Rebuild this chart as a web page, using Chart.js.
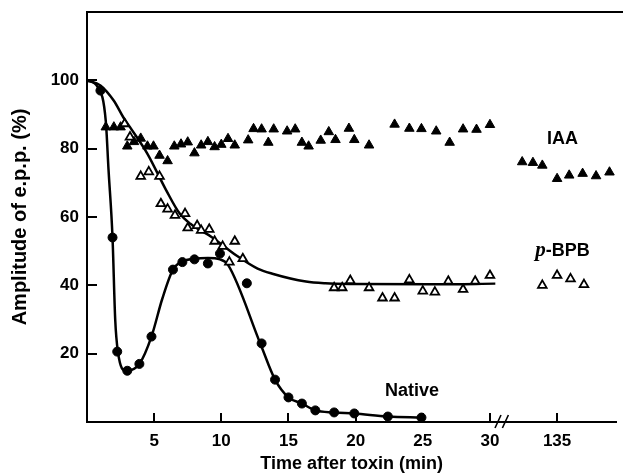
<!DOCTYPE html>
<html><head><meta charset="utf-8">
<script src="https://cdn.jsdelivr.net/npm/chart.js@4/dist/chart.umd.min.js"></script>
<style>html,body{margin:0;padding:0;background:#fff}canvas{display:block}</style>
</head><body>
<canvas id="c" width="623" height="475"></canvas>
<script>
// ---- data (time in min, amplitude in %) ----
const BREAK_SHIFT = 100;            // axis break: 135 min is drawn where 35 would be
const xTickValues = [5, 10, 15, 20, 25, 30, 135];
const yTickValues = [20, 40, 60, 80, 100];

// Native toxin: measured points (filled circles)
const nativeX = [1.0, 1.9, 2.25, 3.0, 3.9, 4.8, 6.4, 7.1, 8.0, 9.0, 9.9, 11.9, 13.0, 14.0, 15.0, 16.0, 17.0, 18.4, 19.9, 22.4, 24.9];
const nativeY = [97, 54, 20.6, 15, 17, 25, 44.6, 46.8, 47.6, 46.4, 49.3, 40.6, 23, 12.4, 7.2, 5.4, 3.4, 2.8, 2.5, 1.6, 1.3];
// Native toxin: drawn curve
const nativeCurveX = [0, 0.8, 1.4, 1.6, 1.9, 2.1, 2.3, 2.9, 3.9, 4.8, 5.6, 6.4, 7.1, 8.0, 9.0, 9.9, 10.5, 12.9, 14.0, 15.0, 16.0, 17.0, 18.4, 19.9, 22.4, 24.9];
const nativeCurveY = [100, 98, 88, 74, 54, 30, 20.6, 15, 17, 25, 36, 44.6, 47, 47.8, 48, 47.6, 46, 23, 12.4, 7.2, 5.4, 3.4, 2.8, 2.5, 1.6, 1.3];

// p-BPB treated toxin: open triangles
const bpbX = [2.8, 3.2, 4.0, 4.6, 5.4, 5.5, 6.0, 6.55, 7.3, 7.5, 8.2, 8.5, 9.1, 9.5, 10.1, 11.0, 10.6, 11.6, 18.4, 19.0, 19.6, 21.0, 22.0, 22.9, 24.0, 25.0, 25.9, 26.9, 28.0, 28.9, 30.0, 133.9, 135.0, 136.0, 137.0];
const bpbY = [87.3, 83.4, 71.9, 73.2, 71.9, 63.9, 62.3, 60.5, 61, 56.8, 57.5, 56.1, 56.4, 52.9, 51.4, 52.9, 46.8, 47.8, 39.3, 39.3, 41.4, 39.3, 36.3, 36.3, 41.6, 38.3, 38, 41.2, 38.8, 41.2, 42.9, 40, 42.9, 41.9, 40.2];
// p-BPB: drawn curve
const bpbCurveX = [0, 1, 2, 2.7, 3.2, 4.5, 5.9, 6.9, 7.7, 9.3, 11.1, 12.7, 13.8, 16.3, 17.75, 20, 26.1, 30.4];
const bpbCurveY = [100, 98.5, 94, 89.2, 86.3, 78.5, 67.8, 61, 58, 54.1, 48.8, 44.9, 43.4, 41.1, 40.6, 40.4, 40.3, 40.5];

// IAA treated toxin: filled triangles
const iaaX = [1.4, 2.0, 2.5, 3.0, 3.5, 4.0, 4.5, 4.95, 5.4, 6.0, 6.5, 7.0, 7.5, 8.0, 8.5, 9.0, 9.5, 10.0, 10.5, 11.0, 12.0, 12.4, 13.0, 13.5, 13.9, 14.9, 15.5, 16.0, 16.5, 17.4, 18.0, 18.5, 19.5, 19.9, 21.0, 22.9, 24.0, 24.9, 26.0, 27.0, 28.0, 29.0, 30.0, 132.4, 133.2, 133.9, 135.0, 135.9, 136.9, 137.9, 138.9];
const iaaY = [86.3, 86.3, 86.3, 80.7, 82, 83, 80.7, 80.7, 78, 76.4, 80.7, 81.3, 81.9, 78.7, 81, 82, 80.5, 81.2, 82.9, 81, 82.5, 85.8, 85.7, 81.8, 85.7, 85.1, 85.7, 81.8, 80.7, 82.4, 84.9, 82.6, 85.9, 82.6, 81, 87.1, 85.9, 85.8, 85.1, 81.8, 85.7, 85.6, 87, 76.1, 75.9, 75.1, 71.2, 72.2, 72.7, 72, 73.1];

// series labels, anchored in data coordinates
const seriesLabels = ['IAA', 'p-BPB', 'Native'];
const labelX = [135.4, 135.4, 24.2];
const labelY = [81.5, 48.5, 7.5];

// ---- helpers ----
const toAxis = t => (t > 100 ? t - BREAK_SHIFT : t);
const fromAxis = v => (v > 32 ? v + BREAK_SHIFT : v);
const pts = (xs, ys) => xs.map((x, i) => ({x: toAxis(x), y: ys[i]}));

const SANS = '"Liberation Sans", Arial, sans-serif';

const decor = {
  id: 'decor',
  afterDraw(chart) {
    const {ctx, chartArea: a, scales: {x, y}} = chart;
    ctx.save();
    ctx.strokeStyle = '#000';
    ctx.lineWidth = 2;
    ctx.beginPath();
    // top frame line
    ctx.moveTo(a.left - 1, a.top);
    ctx.lineTo(chart.width, a.top);
    // inward y ticks
    y.ticks.forEach(t => {
      const py = Math.round(y.getPixelForValue(t.value));
      ctx.moveTo(a.left, py); ctx.lineTo(a.left + 10, py);
    });
    // inward x ticks
    x.ticks.forEach(t => {
      const px = Math.round(x.getPixelForValue(t.value));
      ctx.moveTo(px, a.bottom); ctx.lineTo(px, a.bottom - 9);
    });
    ctx.stroke();
    // axis break marks
    ctx.lineWidth = 1.6;
    ctx.beginPath();
    [30.6, 31.15].forEach(v => {
      const px = x.getPixelForValue(v);
      ctx.moveTo(px - 3, a.bottom + 6); ctx.lineTo(px + 3, a.bottom - 7);
    });
    ctx.stroke();
    // series labels
    ctx.fillStyle = '#000';
    ctx.textBaseline = 'alphabetic';
    seriesLabels.forEach((s, i) => {
      const px = x.getPixelForValue(toAxis(labelX[i]));
      const py = y.getPixelForValue(labelY[i]);
      if (s.startsWith('p-')) {
        ctx.font = 'italic bold 21px "Liberation Serif", serif';
        const pw = ctx.measureText('p').width;
        ctx.font = 'bold 18px ' + SANS;
        const rw = ctx.measureText('-BPB').width;
        const sx = px - (pw + rw) / 2;
        ctx.textAlign = 'left';
        ctx.font = 'italic bold 21px "Liberation Serif", serif';
        ctx.fillText('p', sx, py);
        ctx.font = 'bold 18px ' + SANS;
        ctx.fillText('-BPB', sx + pw, py);
      } else {
        ctx.font = 'bold 18px ' + SANS;
        ctx.textAlign = 'center';
        ctx.fillText(s, px, py);
      }
    });
    ctx.restore();
  }
};

new Chart(document.getElementById('c'), {
  type: 'scatter',
  data: {
    datasets: [
      {type: 'line', data: pts(nativeCurveX, nativeCurveY), borderColor: '#000', borderWidth: 2.5,
       pointRadius: 0, fill: false, cubicInterpolationMode: 'monotone', order: 5},
      {type: 'line', data: pts(bpbCurveX, bpbCurveY), borderColor: '#000', borderWidth: 2.5,
       pointRadius: 0, fill: false, cubicInterpolationMode: 'monotone', order: 5},
      {data: pts(nativeX, nativeY), pointStyle: 'circle', pointRadius: 4.5,
       backgroundColor: '#000', borderColor: '#000', borderWidth: 1, order: 1},
      {data: pts(bpbX, bpbY), pointStyle: 'triangle', pointRadius: 5,
       backgroundColor: '#fff', borderColor: '#000', borderWidth: 1.8, order: 2},
      {data: pts(iaaX, iaaY), pointStyle: 'triangle', pointRadius: 5.5,
       backgroundColor: '#000', borderColor: '#000', borderWidth: 1, order: 3}
    ]
  },
  options: {
    responsive: false,
    animation: false,
    devicePixelRatio: 1,
    layout: {padding: {top: 12, right: 3, left: 0, bottom: 0}},
    plugins: {legend: {display: false}, tooltip: {enabled: false}},
    elements: {line: {tension: 0.4}},
    scales: {
      x: {
        type: 'linear', min: 0, max: 39.4,
        afterBuildTicks: s => { s.ticks = xTickValues.map(v => ({value: toAxis(v)})); },
        afterFit: s => { s.height = 53; s.paddingLeft = 0; s.paddingRight = 0; },
        grid: {display: false, drawTicks: false},
        border: {display: true, color: '#000', width: 2},
        ticks: {padding: 9, color: '#000', font: {family: SANS, size: 17, weight: 'bold'},
                callback: v => String(Math.round(fromAxis(v))), maxRotation: 0, autoSkip: false},
        title: {display: true, text: 'Time after toxin (min)', color: '#000',
                font: {family: SANS, size: 18, weight: 'bold'}, padding: {top: 0, bottom: 0}}
      },
      y: {
        type: 'linear', min: 0, max: 120,
        afterBuildTicks: s => { s.ticks = yTickValues.map(v => ({value: v})); },
        afterFit: s => { s.width = 87; s.paddingTop = 0; s.paddingBottom = 0; },
        grid: {display: false, drawTicks: false},
        border: {display: true, color: '#000', width: 2},
        ticks: {padding: 8, color: '#000', font: {family: SANS, size: 17, weight: 'bold'}},
        title: {display: true, text: 'Amplitude of e.p.p. (%)', color: '#000',
                font: {family: SANS, size: 20, weight: 'bold'}, padding: {top: 8, bottom: 0}}
      }
    }
  },
  plugins: [decor]
});
</script>
</body></html>
